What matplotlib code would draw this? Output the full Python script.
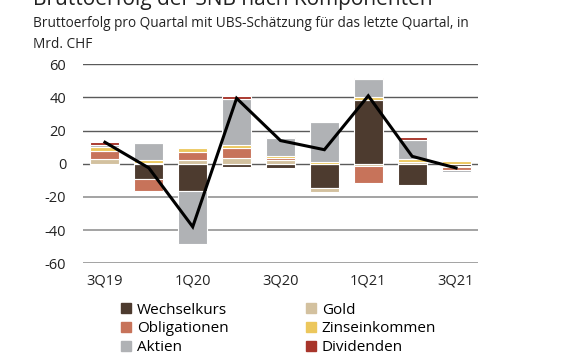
import matplotlib
matplotlib.use("Agg")
import matplotlib.pyplot as plt
from matplotlib.lines import Line2D
import numpy as np

plt.rcParams['font.family'] = ['Open Sans', 'DejaVu Sans']

quarters = ['3Q19', '4Q19', '1Q20', '2Q20', '3Q20', '4Q20', '1Q21', '2Q21', '3Q21']
tick_labels = ['3Q19', '', '1Q20', '', '3Q20', '', '1Q21', '', '3Q21']

wechselkurs = [-0.6, -9.0, -16.4, -1.8, -2.4, -14.6, 38.4, -12.6, -1.4]
gold = [3.0, 0.5, 2.0, 3.4, 2.0, -2.4, -1.4, 0.8, -0.8]
obligationen = [5.0, -7.4, 5.4, 6.0, 1.2, 0.0, -10.0, 0.0, -1.4]
zinseinkommen = [2.0, 1.5, 2.0, 2.2, 1.6, 1.0, 2.0, 2.2, 1.4]
aktien = [1.5, 10.4, -32.2, 27.4, 10.8, 24.0, 11.0, 11.6, -1.4]
dividenden = [1.5, 0.3, 0.3, 1.6, 0.8, 0.3, 0.6, 1.4, 1.0]
total = [13.0, -2.5, -38.0, 39.5, 14.0, 8.5, 41.0, 4.5, -2.5]

series = [
    ('Wechselkurs', wechselkurs, '#4d3b2f'),
    ('Gold', gold, '#d3c19f'),
    ('Obligationen', obligationen, '#c7735a'),
    ('Zinseinkommen', zinseinkommen, '#ecc75c'),
    ('Aktien', aktien, '#b0b2b5'),
    ('Dividenden', dividenden, '#a8352b'),
]

fig = plt.figure(figsize=(5.63, 3.6), dpi=100)
W, H = 563, 360
ax = fig.add_axes([83 / W, 1 - 263.3 / H, (478 - 83) / W, (263.3 - 64.3) / H])

x = np.arange(len(quarters))
ax.set_xlim(-0.5, len(quarters) - 0.5)
ax.set_ylim(-60, 60)

for v in range(-60, 61, 20):
    if v >= 0:
        ax.axhline(v, color='#5a5a5a', lw=1.0, zorder=0)
    else:
        ax.axhline(v, color='#a3a3a3', lw=1.4, zorder=0)

pos_bottom = np.zeros(len(quarters))
neg_bottom = np.zeros(len(quarters))
for name, vals, col in series:
    vals = np.array(vals, dtype=float)
    bottoms = np.where(vals >= 0, pos_bottom, neg_bottom)
    ax.bar(x, vals, bottom=bottoms, width=0.66, color=col, edgecolor='white',
           linewidth=0.8, zorder=2)
    pos_bottom += np.where(vals >= 0, vals, 0)
    neg_bottom += np.where(vals < 0, vals, 0)

ax.plot(x, total, color='black', lw=2.2, zorder=3, solid_joinstyle='miter')

for s in ax.spines.values():
    s.set_visible(False)
ax.set_yticks(range(-60, 61, 20))
ax.set_yticklabels([str(v) for v in range(-60, 61, 20)], fontsize=10.5, color='#222222')
ax.set_xticks(x)
ax.set_xticklabels(tick_labels, fontsize=10.5, color='#222222')
ax.tick_params(axis='both', length=0)
ax.tick_params(axis='y', pad=12)
ax.tick_params(axis='x', pad=7)

fig.text(33 / W, 1 - 5 / H, 'Bruttoerfolg der SNB nach Komponenten', fontsize=15,
         va='baseline', ha='left', color='#222222')
fig.text(33 / W, 1 - 27 / H,
         'Bruttoerfolg pro Quartal mit UBS-Schätzung für das letzte Quartal, in',
         fontsize=9.8, va='baseline', ha='left', color='#222222')
fig.text(33 / W, 1 - 48 / H, 'Mrd. CHF', fontsize=9.8, va='baseline', ha='left',
         color='#222222')

order = [0, 2, 4, 1, 3, 5]
handles = [Line2D([0], [0], marker='s', linestyle='none', markersize=6.5,
                  markerfacecolor=series[i][2], markeredgecolor=series[i][2])
           for i in order]
labels = [series[i][0] for i in order]
fig.legend(handles, labels, ncol=2, loc='upper left',
           bbox_to_anchor=(111 / W, 1 - 295 / H), frameon=False,
           fontsize=11, handletextpad=0.2, columnspacing=4.9,
           labelspacing=0.25, handlelength=1.0, borderpad=0)

fig.savefig('out.png', dpi=100)
